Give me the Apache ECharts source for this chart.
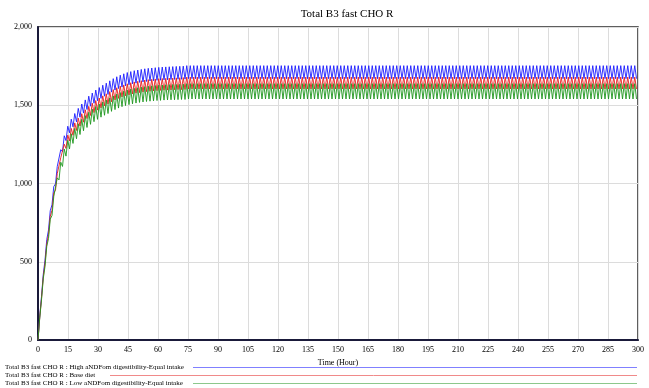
<!DOCTYPE html>
<html>
<head>
<meta charset="utf-8">
<script src="https://cdn.jsdelivr.net/npm/echarts@6/dist/echarts.min.js"></script>
<style>
  html, body { margin: 0; padding: 0; background: #fff; }
  #chart { width: 649px; height: 388px; }
</style>
</head>
<body>
<div id="chart"></div>
<script>
// Simulated "Total B3 fast CHO R" over 300 hours, three diet scenarios.
// Values alternate trough/peak every half feeding cycle.
const halfCycleHours = 0.875;
const endHour = 300;

// Build-up phase, one value per half cycle (index 0 = hour 0)
const highRise = [0, 153, 278, 419, 510, 641, 703, 826, 864, 980, 998, 1109, 1110, 1216, 1203, 1305, 1274, 1366, 1324, 1411, 1362, 1447, 1394, 1480, 1424, 1508, 1450, 1534, 1473, 1558, 1494, 1578, 1513, 1597, 1529, 1613, 1544, 1628, 1558, 1641, 1569, 1656, 1584, 1670, 1597, 1682, 1607, 1692, 1616, 1701, 1624, 1709, 1631, 1715, 1637, 1721, 1641, 1725, 1646, 1729, 1649, 1733, 1652, 1736, 1655, 1738, 1657, 1740, 1659, 1742, 1660, 1744, 1662, 1745, 1663, 1746, 1664, 1747, 1665, 1748, 1666, 1749, 1666, 1750, 1667];
const baseRise = [0, 146, 267, 402, 489, 614, 675, 791, 829, 939, 958, 1063, 1066, 1165, 1155, 1251, 1224, 1309, 1272, 1352, 1308, 1387, 1339, 1418, 1367, 1446, 1392, 1471, 1415, 1493, 1435, 1513, 1453, 1530, 1469, 1546, 1483, 1560, 1496, 1573, 1507, 1587, 1522, 1600, 1534, 1612, 1544, 1622, 1553, 1630, 1560, 1637, 1566, 1644, 1572, 1649, 1577, 1653, 1581, 1657, 1584, 1661, 1587, 1664, 1589, 1666, 1591, 1668, 1593, 1670, 1595, 1671, 1596, 1672, 1597, 1674, 1598, 1674, 1599, 1675, 1600, 1676, 1600, 1677, 1601];
const lowRise = [0, 143, 256, 391, 470, 599, 648, 772, 796, 916, 920, 1036, 1023, 1136, 1109, 1220, 1175, 1276, 1221, 1318, 1256, 1352, 1286, 1382, 1313, 1410, 1337, 1434, 1358, 1455, 1378, 1475, 1395, 1492, 1410, 1507, 1424, 1521, 1436, 1534, 1447, 1547, 1461, 1560, 1472, 1571, 1482, 1581, 1491, 1590, 1498, 1597, 1504, 1603, 1509, 1608, 1514, 1612, 1518, 1616, 1521, 1619, 1524, 1622, 1526, 1624, 1528, 1626, 1530, 1628, 1531, 1629, 1533, 1631, 1534, 1632, 1535, 1633, 1535, 1633, 1536, 1634, 1537, 1635, 1537];

// Steady oscillation once the pool has filled: [peak, trough]
const highPlateau = [1753, 1670];
const basePlateau = [1680, 1604];
const lowPlateau = [1638, 1540];

const seriesNames = [
  'Total B3 fast CHO R : High aNDFom digestibility-Equal intake',
  'Total B3 fast CHO R : Base diet',
  'Total B3 fast CHO R : Low aNDFom digestibility-Equal intake'
];
const seriesColors = ['#1c1cff', '#e61c1c', '#1d961d'];
const legendColors = ['#8080ff', '#f08a8a', '#8cc88c'];

const xTicks = { min: 0, max: 300, interval: 15 };
const yTicks = { min: 0, max: 2000, interval: 500 };

function buildSeries(rise, plateau) {
  const pts = [];
  for (let j = 0; j * halfCycleHours <= endHour; j++) {
    const t = j * halfCycleHours;
    const v = j < rise.length ? rise[j] : plateau[j % 2 === 1 ? 0 : 1];
    pts.push([t, v]);
  }
  return pts;
}

const dataSets = [
  buildSeries(highRise, highPlateau),
  buildSeries(baseRise, basePlateau),
  buildSeries(lowRise, lowPlateau)
];

const serif = '"Liberation Serif", "DejaVu Serif", serif';
const chart = echarts.init(document.getElementById('chart'), null, { renderer: 'canvas' });

// Key below the plot: label, then a coloured rule out to the right edge
const legendGraphics = [];
const legendRows = [367, 375, 383];
const legendLineStart = [193, 110, 193];
seriesNames.forEach((name, i) => {
  legendGraphics.push({
    type: 'text', x: 5, y: legendRows[i],
    style: { text: name, font: '7px ' + serif, fill: '#000', textVerticalAlign: 'middle', verticalAlign: 'middle' }
  });
  legendGraphics.push({
    type: 'line',
    shape: { x1: legendLineStart[i], y1: legendRows[i] + 0.5, x2: 637, y2: legendRows[i] + 0.5 },
    style: { stroke: legendColors[i], lineWidth: 1 }
  });
});

chart.setOption({
  animation: false,
  backgroundColor: '#fff',
  title: {
    text: 'Total B3 fast CHO R',
    left: 342, top: 4, textAlign: 'center',
    textStyle: { fontFamily: serif, fontSize: 11, fontWeight: 'normal', color: '#000' }
  },
  grid: {
    left: 38, right: 11, top: 27, bottom: 48,
    show: true, borderColor: '#2a2a2a', borderWidth: 1.5, backgroundColor: '#fff'
  },
  xAxis: {
    type: 'value', min: xTicks.min, max: xTicks.max, interval: xTicks.interval,
    name: 'Time (Hour)', nameLocation: 'middle', nameGap: 10,
    nameTextStyle: { fontFamily: serif, fontSize: 8, color: '#000' },
    axisLine: { show: true, lineStyle: { color: '#1a1a3a', width: 2 } },
    axisTick: { show: false },
    axisLabel: { fontFamily: serif, fontSize: 8, color: '#000', margin: 6 },
    splitLine: { show: true, lineStyle: { color: '#dcdcdc', width: 1 } }
  },
  yAxis: {
    type: 'value', min: yTicks.min, max: yTicks.max, interval: yTicks.interval,
    axisLine: { show: true, lineStyle: { color: '#1a1a3a', width: 2 } },
    axisTick: { show: false },
    axisLabel: {
      fontFamily: serif, fontSize: 8, color: '#000', margin: 6,
      formatter: v => v.toLocaleString('en-US')
    },
    splitLine: { show: true, lineStyle: { color: '#dcdcdc', width: 1 } }
  },
  graphic: legendGraphics,
  series: dataSets.map((d, i) => ({
    name: seriesNames[i],
    type: 'line',
    data: d,
    showSymbol: false,
    symbol: 'none',
    lineStyle: { color: seriesColors[i], width: 0.9 },
    z: 2 + i
  }))
});
</script>
</body>
</html>
